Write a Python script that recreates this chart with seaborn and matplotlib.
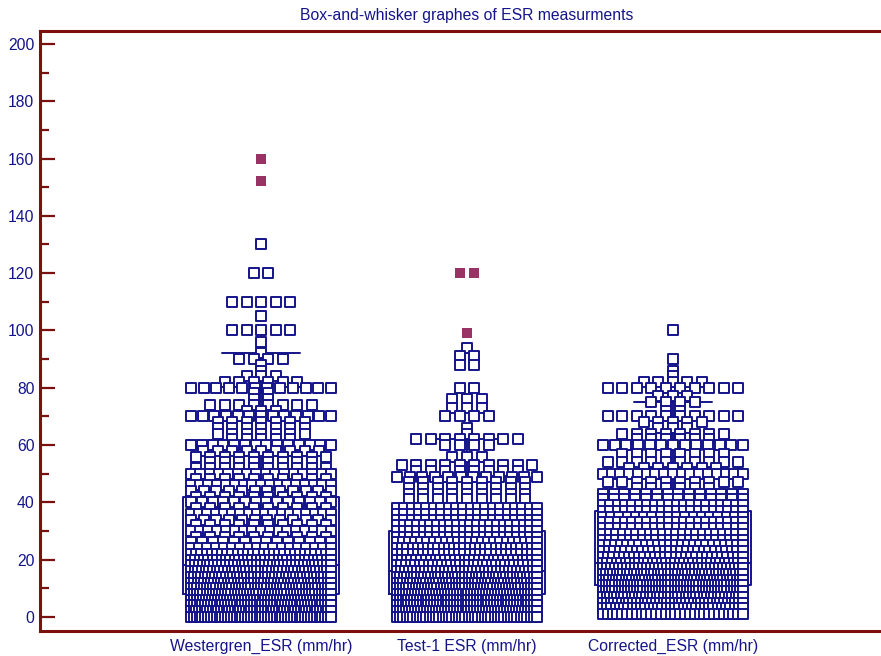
import numpy as np
import pandas as pd
import matplotlib
matplotlib.use("Agg")
import matplotlib.pyplot as plt
from matplotlib.ticker import MultipleLocator
import seaborn as sns

# ---- data: ESR value rows and how many patients fall on each row ----
groups = ["Westergren_ESR (mm/hr)", "Test-1 ESR (mm/hr)", "Corrected_ESR (mm/hr)"]

westergren_values = [0, 2, 4, 6, 8, 10, 12, 14, 16, 18, 20, 22, 24, 26, 28, 30, 32, 34,
                     36, 38, 40, 42, 44, 46, 48, 50, 52, 54, 56, 58, 60, 62, 64, 66, 68,
                     70, 72, 74, 76, 78, 80, 82, 84, 86, 88, 90, 92, 96, 100, 105, 110,
                     120, 130]
westergren_counts = [50, 52, 50, 48, 46, 45, 43, 41, 39, 37, 33, 28, 18, 14, 10, 17, 10, 12,
                     18, 10, 14, 10, 12, 17, 10, 16, 10, 8, 10, 9, 14, 5, 7, 7, 7,
                     13, 3, 8, 2, 2, 12, 6, 3, 1, 1, 4, 1, 1, 5, 1, 5,
                     2, 1]
westergren_outliers = [152, 160]

test1_values = [0, 2, 4, 6, 8, 10, 12, 14, 16, 18, 20, 22, 24, 26, 28, 30, 32, 34, 36, 38,
                41, 43, 45, 47, 49, 51, 53, 56, 60, 62, 64, 66, 70, 73, 76, 80, 88, 91, 94]
test1_counts = [44, 48, 50, 50, 48, 46, 44, 42, 36, 32, 30, 28, 28, 24, 22, 22, 22, 20, 20, 20,
                9, 9, 9, 9, 12, 8, 10, 3, 4, 8, 1, 1, 4, 3, 3, 2, 2, 2, 1]
test1_outliers = [99, 120, 120]

corrected_values = [1, 3, 5, 7, 9, 11, 13, 15, 17, 19, 21, 23, 25, 27, 29, 31, 33, 35, 37, 39,
                    41, 43, 45, 47, 50, 52, 54, 57, 60, 62, 64, 66, 68, 70, 72, 75, 77, 80,
                    82, 84, 86, 90, 100]
corrected_counts = [30, 34, 38, 40, 46, 46, 44, 42, 36, 32, 28, 26, 24, 22, 22, 20, 20, 18, 20, 20,
                    14, 14, 6, 10, 17, 7, 10, 8, 13, 6, 8, 3, 5, 10, 2, 4, 3, 10,
                    5, 1, 1, 1, 1]
corrected_outliers = []

NAVY = "#14148a"
FRAME = "#7d0f0f"
FAR_OUT = "#993366"

sns.set_style("white")
plt.rcParams["font.family"] = ["Liberation Sans", "DejaVu Sans"]

STEP = 0.0704   # preferred spacing between neighbouring markers (category units)
HALF = 0.34     # widest half-spread of one row of markers


def lay_out(index, values, counts):
    """Spread each row of equal values symmetrically around the group centre."""
    values = np.asarray(values, dtype=float)
    counts = np.asarray(counts, dtype=int)
    pieces = []
    for k in np.argsort(values, kind="stable")[::-1]:
        v, n = values[k], counts[k]
        step = STEP if n < 2 else min(STEP, 2 * HALF / (n - 1))
        offsets = (np.arange(n) - (n - 1) / 2) * step
        pieces.append(pd.DataFrame({"x": index + offsets, "esr": np.full(n, v)}))
    return pieces


series = [
    (westergren_values, westergren_counts, westergren_outliers),
    (test1_values, test1_counts, test1_outliers),
    (corrected_values, corrected_counts, corrected_outliers),
]

box_parts, dot_parts, far_parts = [], [], []
for i, (vals, cnts, outl) in enumerate(series):
    every = np.concatenate([np.repeat(vals, cnts), np.asarray(outl, dtype=float)])
    box_parts.append(pd.DataFrame({"pos": i, "esr": every}))
    dot_parts += lay_out(i, vals, cnts)
    if len(outl):
        ov, oc = np.unique(outl, return_counts=True)
        far_parts += lay_out(i, ov, oc)

box_df = pd.concat(box_parts, ignore_index=True)
dots = pd.concat(dot_parts, ignore_index=True)
far = pd.concat(far_parts, ignore_index=True)

fig = plt.figure(figsize=(8.81, 6.56), dpi=100)
ax = fig.add_axes([40 / 881, 25 / 656, 854 / 881, 600 / 656])

sns.boxplot(data=box_df, x="pos", y="esr", native_scale=True, orient="x",
            width=0.76, fill=False, color=NAVY, linecolor=NAVY, linewidth=1.4,
            showfliers=False, whis=1.5, ax=ax)

sns.scatterplot(data=dots, x="x", y="esr", marker="s", s=42, color="white",
                edgecolor=NAVY, linewidth=1.4, zorder=3, legend=False, ax=ax)
sns.scatterplot(data=far, x="x", y="esr", marker="s", s=56, color=FAR_OUT,
                edgecolor=FAR_OUT, linewidth=0, zorder=4, legend=False, ax=ax)

ax.set_xlim(-1.073, 3.073)
ax.set_ylim(-4.9, 204.5)
ax.set_xticks(range(len(groups)), labels=groups)
ax.yaxis.set_major_locator(MultipleLocator(20))
ax.yaxis.set_minor_locator(MultipleLocator(10))
ax.tick_params(axis="y", which="major", direction="in", length=10.8, width=1.6,
               color=FRAME, labelcolor=NAVY, labelsize=11.3, pad=4, left=True)
ax.tick_params(axis="y", which="minor", direction="in", length=6.5, width=1.6,
               color=FRAME, left=True)
ax.tick_params(axis="x", length=0, labelcolor=NAVY, labelsize=11.3, pad=6)
ax.set_xlabel("")
ax.set_ylabel("")
ax.grid(False)

for side in ("left", "top", "bottom"):
    ax.spines[side].set_color(FRAME)
    ax.spines[side].set_linewidth(2.2)
ax.spines["right"].set_visible(False)

ax.set_title("Box-and-whisker graphes of ESR measurments", color=NAVY,
             fontsize=11.3, pad=8)

fig.savefig("out.png", dpi=100)
